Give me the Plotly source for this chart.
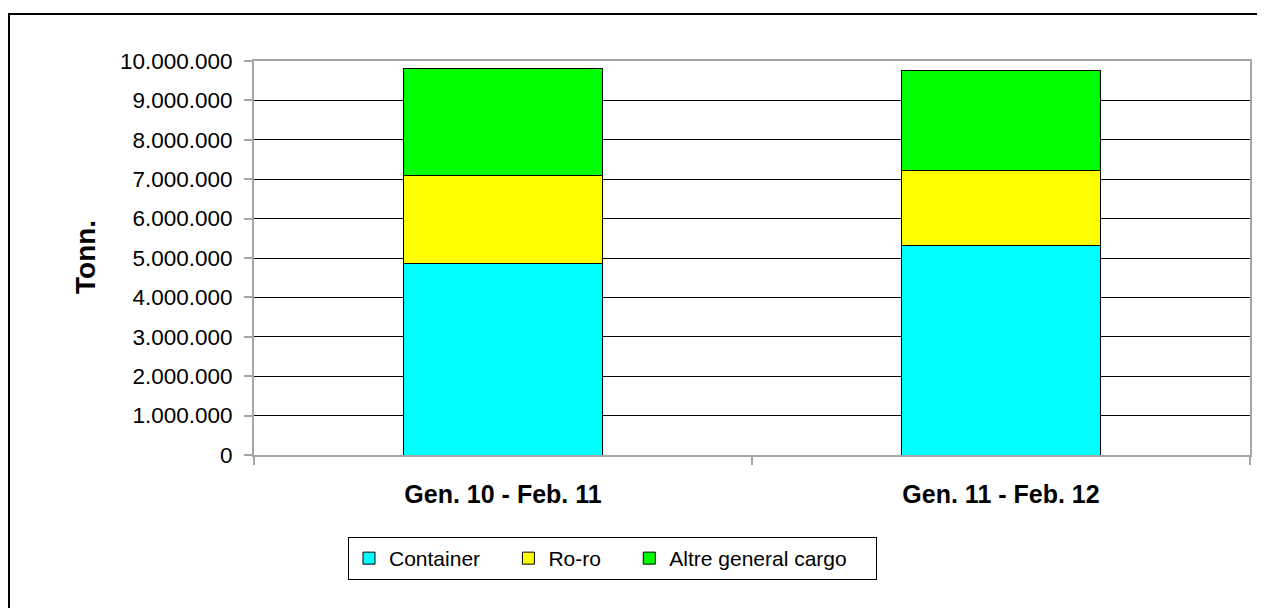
import plotly.graph_objects as go

categories = ["Gen. 10 - Feb. 11", "Gen. 11 - Feb. 12"]
container = [4860000, 5310000]
roro = [2240000, 1920000]
altre = [2710000, 2530000]
series_names = ["Container", "Ro-ro", "Altre general cargo"]
series_colors = ["#00FFFF", "#FFFF00", "#00FF00"]
y_tickvals = [0, 1000000, 2000000, 3000000, 4000000, 5000000,
              6000000, 7000000, 8000000, 9000000, 10000000]

FONT = "Liberation Sans, Arial, sans-serif"
PAD = "\u00a0\u00a0\u00a0\u00a0"  # extra spacing between legend entries

fig = go.Figure()
for name, vals, col in zip(series_names, [container, roro, altre], series_colors):
    fig.add_trace(go.Bar(
        x=categories, y=vals, name=name + PAD,
        marker=dict(color=col, line=dict(color="#000000", width=1)),
    ))

# page body has an 8px margin, so figure coords = page coords - 8
OFF = 8
W, H = 1257, 600
L, R, T, B = 246, 15, 53, 153
pw = W - L - R
ph = H - T - B


def px_x(x):
    return (x - OFF - L) / pw


def px_y(y):
    return (H - B - (y - OFF)) / ph


fig.update_layout(
    width=W, height=H,
    barmode="stack", bargap=0.6,
    separators=",.",
    paper_bgcolor="white", plot_bgcolor="white",
    margin=dict(l=L, r=R, t=T, b=B, pad=0),
    font=dict(family=FONT, color="#000000", size=21),
    showlegend=True,
    legend=dict(
        orientation="h", x=px_x(348), xanchor="left",
        y=px_y(537), yanchor="top",
        bordercolor="#000000", borderwidth=1,
        font=dict(family=FONT, size=21, color="#000000"),
        traceorder="normal", bgcolor="white",
    ),
    xaxis=dict(
        type="category", tickson="boundaries",
        showline=True, linecolor="#A6A6A6", linewidth=2, mirror=True,
        ticks="outside", ticklen=8, tickcolor="#A6A6A6", tickwidth=2,
        showgrid=False,
        tickfont=dict(family=FONT, size=25, color="#000000", weight="bold"),
        ticklabelstandoff=16,
    ),
    yaxis=dict(
        range=[0, 10000000], tickvals=y_tickvals, tickformat=",",
        showline=True, linecolor="#A6A6A6", linewidth=2, mirror=True,
        ticks="outside", ticklen=8, tickcolor="#A6A6A6", tickwidth=2,
        showgrid=True, gridcolor="#000000", gridwidth=1,
        zeroline=False,
        tickfont=dict(family=FONT, size=22.5, color="#000000"),
        ticklabelstandoff=7,
    ),
    annotations=[dict(
        text="<b>Tonn.</b>", xref="paper", yref="paper",
        x=px_x(85), y=px_y(257), xanchor="center", yanchor="middle",
        textangle=-90, showarrow=False,
        font=dict(family=FONT, size=28, color="#000000"),
    )],
    shapes=[dict(
        type="rect", xref="paper", yref="paper",
        x0=px_x(9), x1=px_x(1285), y0=px_y(630), y1=px_y(14),
        line=dict(color="#000000", width=2), fillcolor="rgba(0,0,0,0)",
        layer="above",
    )],
)

fig.write_html("out.html")
